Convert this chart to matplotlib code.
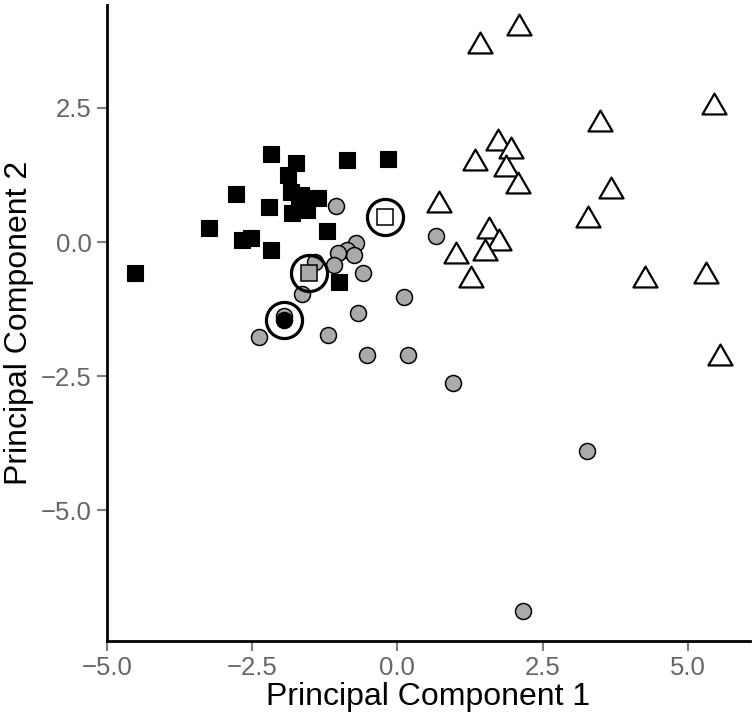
import matplotlib.pyplot as plt
import numpy as np
from matplotlib.path import Path

plt.rcParams['font.family'] = ['Liberation Sans', 'DejaVu Sans']

# group 1: black squares
sq_x = [-4.52, -3.24, -2.78, -2.67, -2.52, -2.17, -2.21, -2.17, -1.75, -1.89,
        -1.83, -1.66, -1.81, -1.55, -1.37, -1.69, -1.21, -0.86, -0.17, -1.00]
sq_y = [-0.58, 0.26, 0.90, 0.04, 0.07, 1.64, 0.65, -0.15, 1.47, 1.25,
        0.94, 0.88, 0.54, 0.60, 0.82, 0.66, 0.21, 1.53, 1.54, -0.75]

# group 2: grey circles
ci_x = [-1.06, -0.71, -0.86, -0.74, -1.03, -1.09, -1.41, -0.60, -1.64, 0.12,
        -0.68, -2.38, -1.20, -1.95, -0.53, 0.19, 0.67, 0.95, 3.26, 2.16]
ci_y = [0.67, -0.02, -0.15, -0.24, -0.20, -0.43, -0.37, -0.58, -0.96, -1.02,
        -1.33, -1.77, -1.74, -1.38, -2.10, -2.11, 0.11, -2.63, -3.90, -6.88]

# group 3: open triangles
tr_x = [2.10, 1.43, 5.45, 3.48, 1.74, 1.96, 1.34, 1.87, 2.07, 3.67,
        3.29, 0.71, 1.57, 1.75, 1.51, 1.01, 1.26, 4.26, 5.32, 5.55]
tr_y = [3.99, 3.66, 2.51, 2.20, 1.85, 1.70, 1.47, 1.37, 1.04, 0.95,
        0.41, 0.69, 0.21, -0.01, -0.21, -0.26, -0.71, -0.70, -0.63, -2.16]

# highlighted points (shape, fill)
hl_x = [-0.21, -1.53, -1.96]
hl_y = [0.46, -0.58, -1.46]
hl_marker = ['s', 's', 'o']
hl_fill = ['white', '#aaaaaa', 'black']

tri = Path([(0, 0.577), (-0.5, -0.289), (0.5, -0.289), (0, 0.577)],
           [Path.MOVETO, Path.LINETO, Path.LINETO, Path.CLOSEPOLY])

fig = plt.figure(figsize=(7.53, 7.21), dpi=100)
ax = fig.add_axes([0.142, 0.111, 0.854, 0.882])

ax.plot(sq_x, sq_y, 's', ms=11.5, mfc='black', mec='black', mew=0.8, ls='none')
ax.plot(ci_x, ci_y, 'o', ms=11.5, mfc='#aaaaaa', mec='black', mew=1.1, ls='none')
ax.plot(tr_x, tr_y, marker=tri, ms=20, mfc='white', mec='black', mew=1.6, ls='none')
for x, y, m, f in zip(hl_x, hl_y, hl_marker, hl_fill):
    ax.plot(x, y, m, ms=11.5, mfc=f, mec='black', mew=1.1)
ax.plot(hl_x, hl_y, 'o', ms=26, mfc='none', mec='black', mew=2.3, ls='none')

ax.set_xlim(-5.0, 6.07)
ax.set_ylim(-7.44, 4.42)
ax.set_xticks([-5.0, -2.5, 0.0, 2.5, 5.0])
ax.set_yticks([-5.0, -2.5, 0.0, 2.5])
ax.set_xticklabels(['\u22125.0', '\u22122.5', '0.0', '2.5', '5.0'])
ax.set_yticklabels(['\u22125.0', '\u22122.5', '0.0', '2.5'])

for s in ['top', 'right']:
    ax.spines[s].set_visible(False)
for s in ['left', 'bottom']:
    ax.spines[s].set_linewidth(2)
ax.tick_params(length=7, width=1.5, color='#7f7f7f', labelcolor='#666666',
               labelsize=18.5, pad=4)

ax.set_xlabel('Principal Component 1', fontsize=23, labelpad=1)
ax.set_ylabel('Principal Component 2', fontsize=23, labelpad=5)

plt.savefig('out.png', dpi=100)
